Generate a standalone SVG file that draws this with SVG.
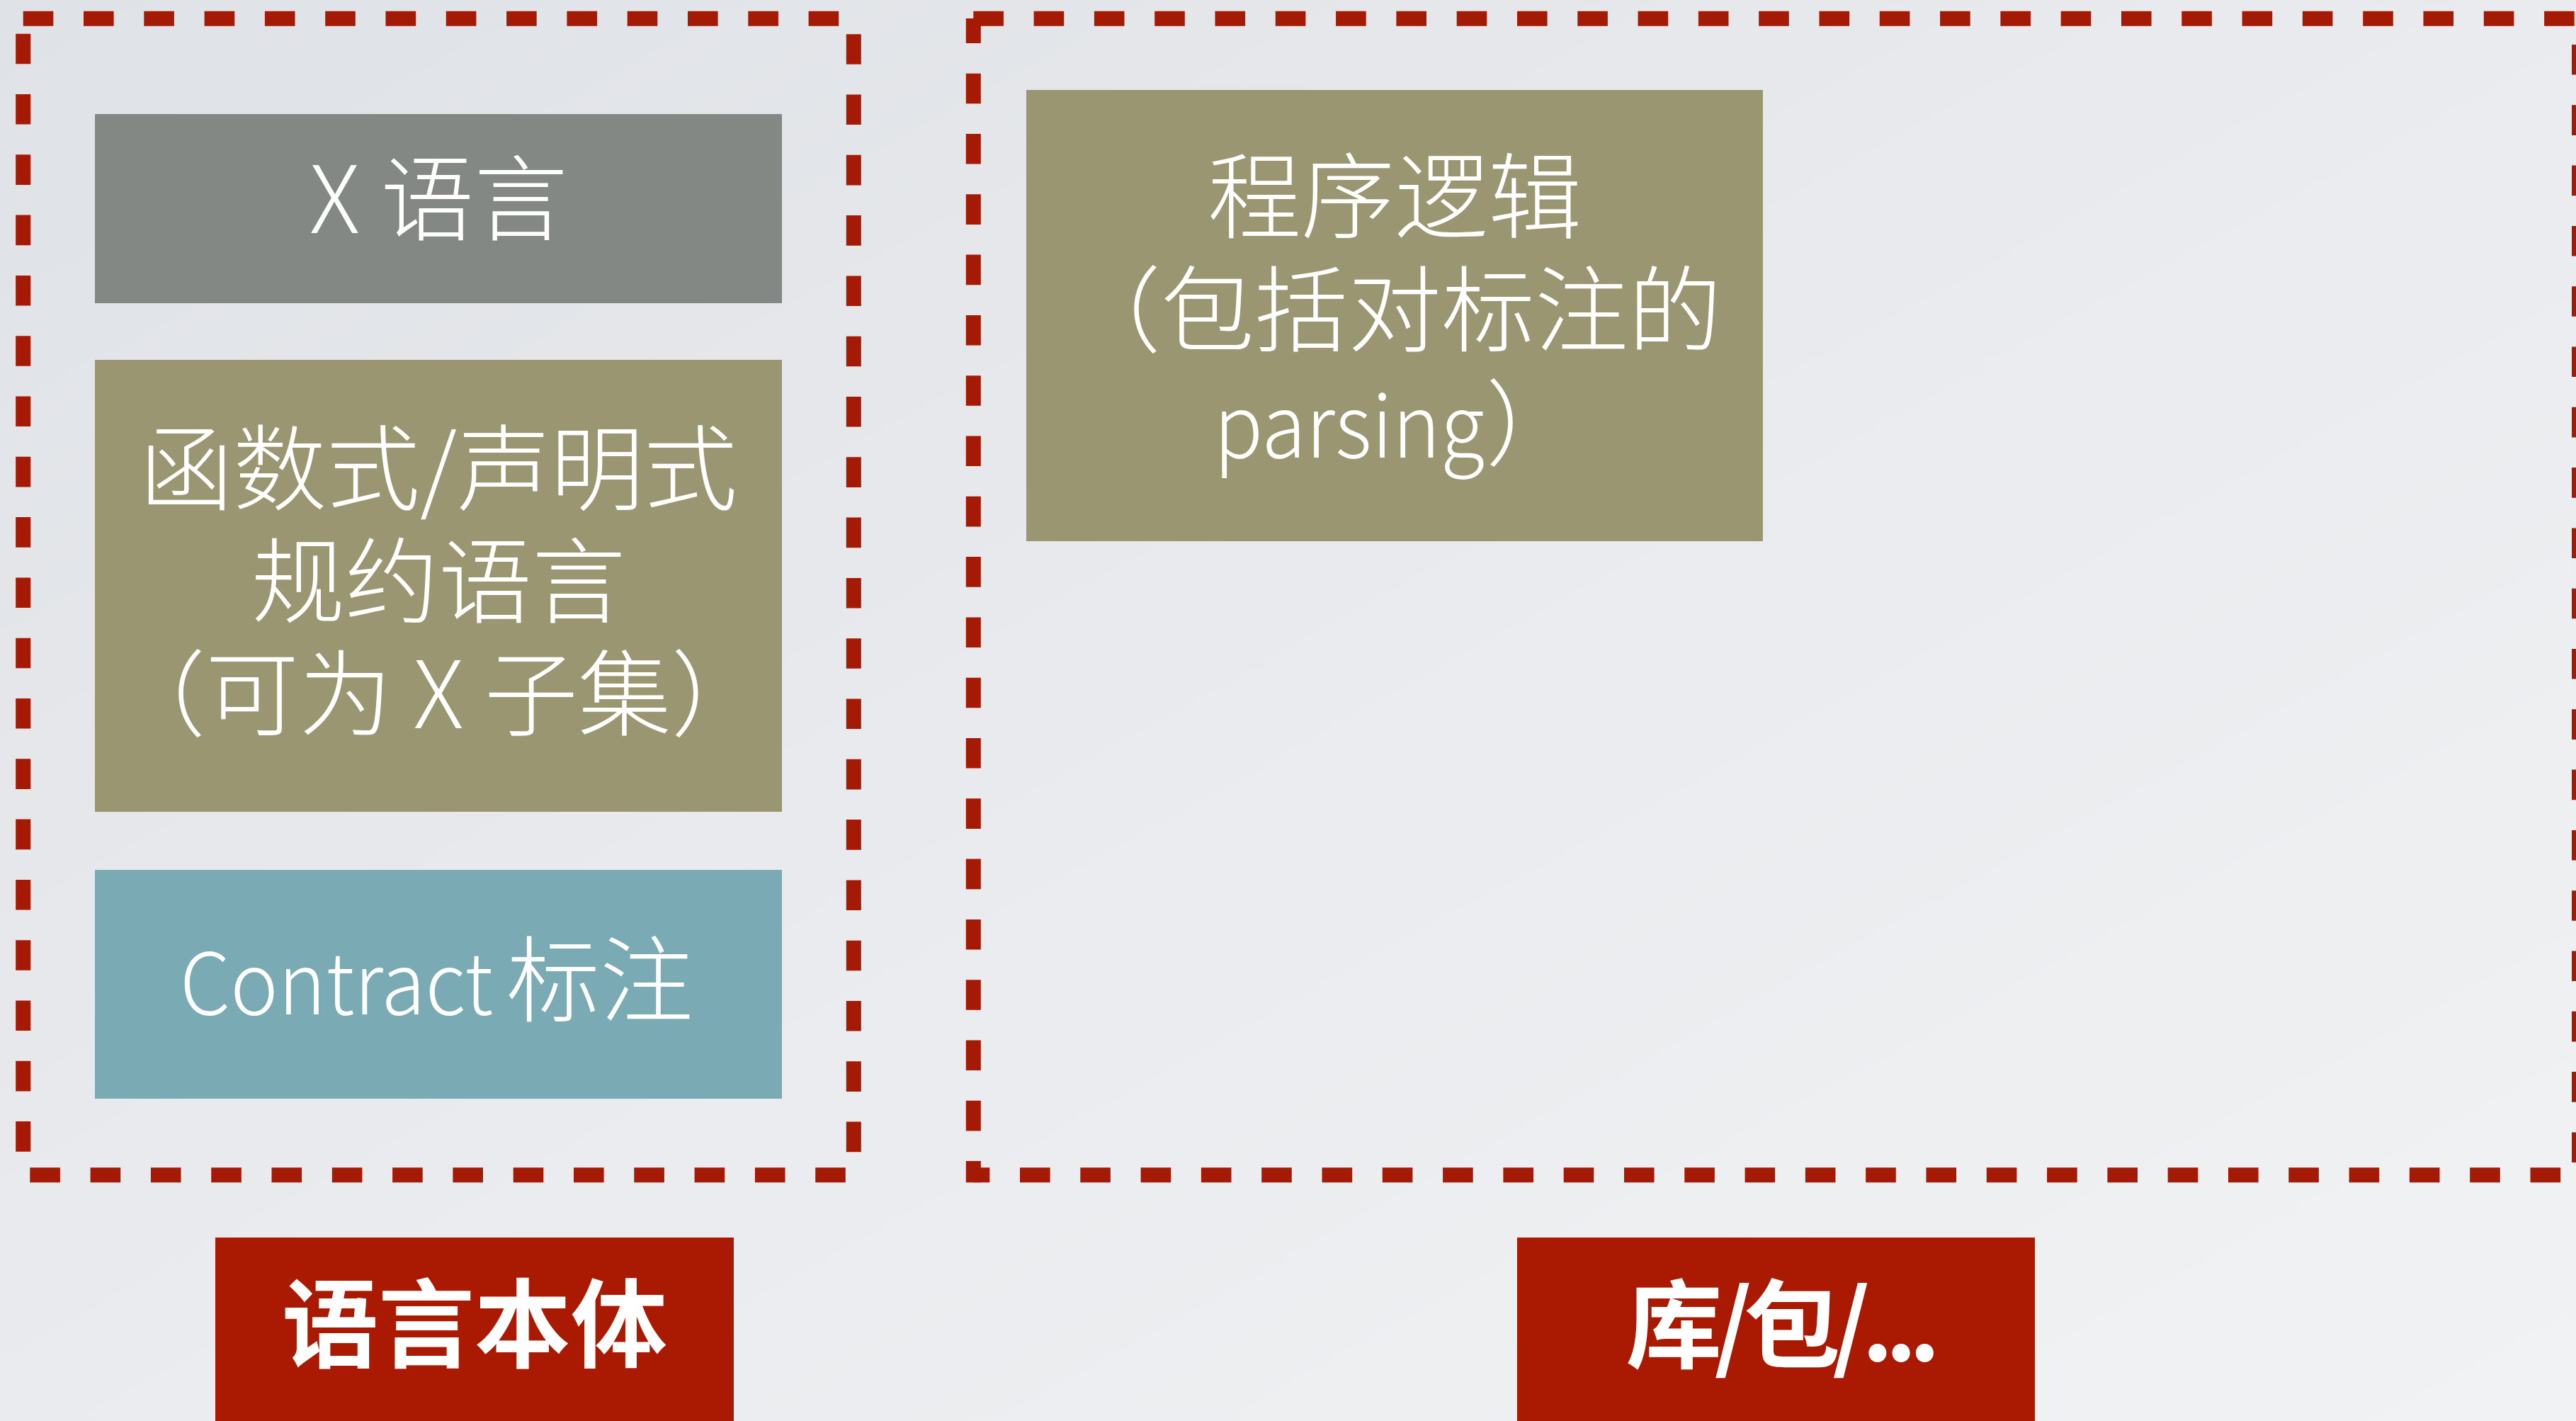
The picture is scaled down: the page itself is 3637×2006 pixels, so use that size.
<svg xmlns="http://www.w3.org/2000/svg" width="3637" height="2006" viewBox="0 0 3637 2006">
<defs>
<linearGradient id="bg" x1="0" y1="0" x2="1" y2="1">
<stop offset="0" stop-color="#dfe2e6"/>
<stop offset="0.5" stop-color="#e9ebee"/>
<stop offset="1" stop-color="#f1f2f4"/>
</linearGradient>
<style>
.dash{stroke:#a51a04;stroke-width:21;fill:none;stroke-dasharray:42.6 42.7}
.lt{font-family:"Noto Sans CJK SC","Noto Sans",sans-serif;font-weight:300;font-size:132px;fill:#ffffff;text-anchor:middle}
.ls{text-anchor:start}
.bd{font-family:"Noto Sans CJK SC","Noto Sans",sans-serif;font-weight:700;font-size:136px;fill:#ffffff;text-anchor:middle}
</style>
</defs>
<rect x="0" y="0" width="3637" height="2006" fill="url(#bg)"/>
<g id="connectors">
<g id="frame-left">
<line class="dash" x1="32.7" y1="26.2" x2="1216" y2="26.2"/>
<line class="dash" x1="32.7" y1="47.7" x2="32.7" y2="1640"/>
<line class="dash" x1="1205.3" y1="48.2" x2="1205.3" y2="1640"/>
<line class="dash" x1="42.3" y1="1658.8" x2="1200" y2="1658.8"/>
</g>
<g id="frame-right">
<line class="dash" x1="1374.3" y1="26.2" x2="3641" y2="26.2"/>
<line class="dash" x1="1374.3" y1="26" x2="1374.3" y2="1669.3" stroke-dashoffset="7.6"/>
<line class="dash" x1="3641.5" y1="63" x2="3641.5" y2="1645"/>
<line class="dash" x1="1374.3" y1="1658.8" x2="3641" y2="1658.8" stroke-dashoffset="19.6"/>
</g>
</g>
<g id="node-x">
<rect x="134" y="161" width="970" height="267" fill="#838885"/>
<text class="lt" x="619" y="329">X 语言</text>
</g>
<g id="node-spec">
<rect x="134" y="508" width="970" height="638" fill="#9b9672"/>
<text class="lt" x="619" y="710">函数式/声明式</text>
<text class="lt" x="619" y="869">规约语言</text>
<text class="lt" x="619" y="1028">（可为 X 子集）</text>
</g>
<g id="node-contract">
<rect x="134" y="1228" width="970" height="323" fill="#7aaab4"/>
<text class="lt ls" x="254" y="1432"><tspan font-size="120" textLength="442" lengthAdjust="spacingAndGlyphs">Contract</tspan><tspan x="715">标注</tspan></text>
</g>
<g id="node-logic">
<rect x="1449" y="127" width="1040" height="637" fill="#9b9672"/>
<text class="lt" x="1969" y="326">程序逻辑</text>
<text class="lt" x="1969" y="486">（包括对标注的</text>
<text class="lt ls" x="1714" y="646"><tspan font-size="122" textLength="382" lengthAdjust="spacingAndGlyphs">parsing</tspan><tspan x="2098">）</tspan></text>
</g>
<g id="label-lang">
<rect x="304" y="1747" width="732" height="259" fill="#aa1a02"/>
<text class="bd" x="670" y="1920">语言本体</text>
</g>
<g id="label-lib">
<rect x="2142" y="1747" width="731" height="259" fill="#aa1a02"/>
<text class="bd" x="2512" y="1921" letter-spacing="-11">库/包/...</text>
</g>
</svg>
